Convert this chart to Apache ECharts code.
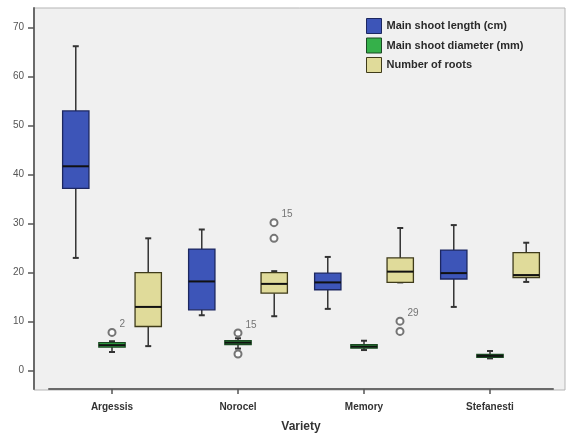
<!DOCTYPE html>
<html>
<head>
<meta charset="utf-8">
<script src="https://cdn.jsdelivr.net/npm/echarts@6/dist/echarts.min.js"></script>
<style>html,body{margin:0;padding:0;background:#fff}#c{width:568px;height:438px}</style>
</head>
<body>
<div id="c"></div>
<script>
const categories = ['Argessis', 'Norocel', 'Memory', 'Stefanesti'];
const seriesNames = ['Main shoot length (cm)', 'Main shoot diameter (mm)', 'Number of roots'];
// [min, Q1, median, Q3, max] per category
const shootLength = [[23.0, 37.2, 41.7, 53.0, 66.2], [11.3, 12.4, 18.2, 24.8, 28.8], [12.6, 16.5, 18.0, 19.9, 23.2], [13.0, 18.7, 19.9, 24.6, 29.7]];
const shootDiameter = [[3.8, 4.8, 5.2, 5.7, 6.0], [4.5, 5.3, 5.7, 6.1, 6.6], [4.2, 4.6, 4.9, 5.3, 6.1], [2.5, 2.7, 3.0, 3.3, 4.0]];
const numberOfRoots = [[5.0, 9.0, 13.0, 20.0, 27.0], [11.1, 15.8, 17.7, 20.0, 20.3], [18.0, 18.0, 20.2, 23.0, 29.1], [18.1, 19.0, 19.5, 24.1, 26.1]];
// outliers: [category index, value, case label]
const diameterOutliers = [[0, 7.8, '2'], [1, 7.7, '15'], [1, 3.4, '']];
const rootsOutliers = [[1, 30.2, '15'], [1, 27.0, ''], [2, 10.1, '29'], [2, 8.0, '']];
const yTicks = [0, 10, 20, 30, 40, 50, 60, 70];

const font = 'Liberation Sans, Arial, sans-serif';
const fills = ['#3d55b8', '#35b04a', '#e0db9a'];
const borders = ['#1c2760', '#1a4a22', '#3f3b1a'];

const chart = echarts.init(document.getElementById('c'), null, {renderer: 'canvas'});

function boxGeom(band, idx) {
  const avail = band * 0.8 - 2;
  const gap = avail / 3 * 0.3;
  const w = (avail - gap * 2) / 3;
  return {w: w, off: w / 2 - avail / 2 + idx * (gap + w)};
}

function box(idx, data) {
  return {
    name: seriesNames[idx], type: 'custom', xAxisIndex: 1, yAxisIndex: 1,
    data: data.map((d, i) => [i].concat(d)),
    encode: {x: 0, y: [1, 2, 3, 4, 5]},
    itemStyle: {color: fills[idx], borderColor: borders[idx]},
    renderItem: function (params, api) {
      const cat = api.value(0);
      const band = api.size([1, 0])[0];
      const g = boxGeom(band, idx);
      const x = api.coord([cat, 0])[0] + g.off;
      const y = [1, 2, 3, 4, 5].map(i => api.coord([cat, api.value(i)])[1]);
      const cap = 3;
      const wStyle = {stroke: '#333', lineWidth: 1.5};
      return {type: 'group', children: [
        {type: 'line', shape: {x1: x, y1: y[0], x2: x, y2: y[1]}, style: wStyle},
        {type: 'line', shape: {x1: x, y1: y[3], x2: x, y2: y[4]}, style: wStyle},
        {type: 'line', shape: {x1: x - cap, y1: y[0], x2: x + cap, y2: y[0]}, style: {stroke: '#333', lineWidth: 2}},
        {type: 'line', shape: {x1: x - cap, y1: y[4], x2: x + cap, y2: y[4]}, style: {stroke: '#333', lineWidth: 2}},
        {type: 'rect', shape: {x: x - g.w / 2, y: y[3], width: g.w, height: Math.max(y[1] - y[3], 0.5)},
          style: {fill: fills[idx], stroke: borders[idx], lineWidth: 1.3}},
        {type: 'line', shape: {x1: x - g.w / 2, y1: y[2], x2: x + g.w / 2, y2: y[2]}, style: {stroke: '#111', lineWidth: 2}}
      ]};
    },
    emphasis: {disabled: true}
  };
}
function outl(data, off) {
  return {
    type: 'scatter', xAxisIndex: 1, yAxisIndex: 1,
    data: data.map(d => ({value: [d[0], d[1]], name: d[2]})),
    symbol: 'emptyCircle', symbolSize: 7, symbolOffset: [off, 0],
    itemStyle: {color: '#555', borderWidth: 1.4},
    label: {show: true, position: 'right', offset: [-2, -8], formatter: p => p.name,
      color: '#555', fontSize: 10, fontFamily: font},
    z: 5
  };
}

chart.setOption({
  animation: false,
  backgroundColor: '#fff',
  grid: [
    {left: 34, right: 3, top: 8, bottom: 48, show: true, backgroundColor: '#f0f0f0', borderColor: '#b5b5b5', borderWidth: 1},
    {left: 49, right: 15, top: 8, bottom: 48}
  ],
  xAxis: [
    {gridIndex: 0, type: 'value', show: false},
    {gridIndex: 1, type: 'category', data: categories,
      axisLine: {show: true, onZero: false, lineStyle: {color: '#6a6a6a', width: 2}},
      axisTick: {show: true, alignWithLabel: true, length: 5, lineStyle: {color: '#555', width: 1.5}},
      axisLabel: {fontFamily: font, fontSize: 10, fontWeight: 'bold', color: '#333', margin: 13},
      name: 'Variety', nameLocation: 'middle', nameGap: 32,
      nameTextStyle: {fontFamily: font, fontSize: 12, fontWeight: 'bold', color: '#333'}
    }
  ],
  yAxis: [
    {gridIndex: 0, type: 'value', show: false},
    {gridIndex: 1, type: 'value', min: -3.75, max: 74, offset: 15,
      axisLine: {show: true, onZero: false, lineStyle: {color: '#6a6a6a', width: 2}},
      axisTick: {show: true, length: 6, customValues: yTicks, lineStyle: {color: '#555', width: 1.5}},
      axisLabel: {customValues: yTicks, fontFamily: font, fontSize: 10, color: '#555', margin: 10},
      splitLine: {show: false}
    }
  ],
  legend: {
    data: seriesNames.map((n, i) => ({name: n, itemStyle: {color: fills[i], borderColor: borders[i], borderWidth: 1}})),
    orient: 'vertical', left: 362, top: 8,
    itemWidth: 15, itemHeight: 15, itemGap: 3.5, icon: 'rect',
    padding: [10, 40, 11, 4],
    textStyle: {fontFamily: font, fontSize: 11, fontWeight: 'bold', color: '#2a2a2a'},
    selectedMode: false
  },
  series: [
    box(0, shootLength),
    box(1, shootDiameter),
    box(2, numberOfRoots),
    outl(diameterOutliers, 0),
    outl(rootsOutliers, 36)
  ]
});
</script>
</body>
</html>
